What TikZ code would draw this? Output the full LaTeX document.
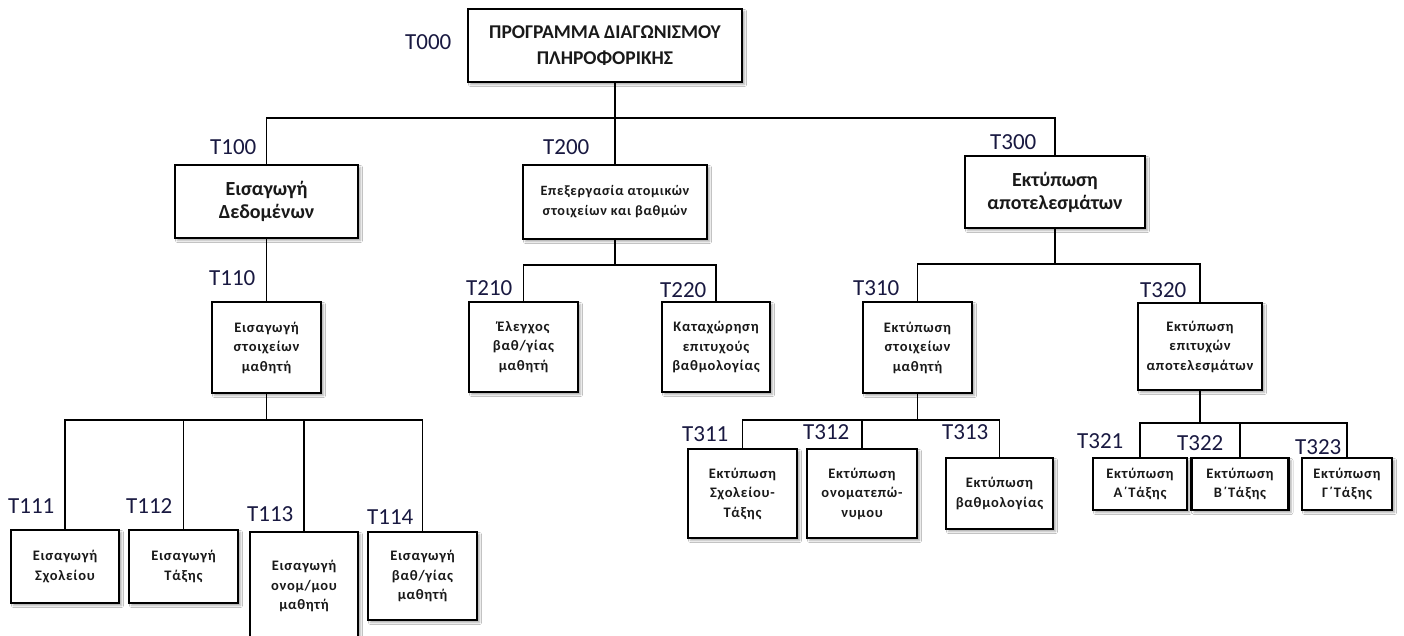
\documentclass[tikz,border=0pt]{standalone}
\usepackage{fontspec}
\setmainfont{Carlito}
\newfontfamily\spacedfont{Carlito}[LetterSpace=5]
\usetikzlibrary{shadows.blur}
\definecolor{codeblue}{RGB}{25,25,65}

\tikzset{
  box/.style={draw=black, line width=2.6pt, fill=white, inner sep=0pt,
    align=center, text=black!90,
    blur shadow={shadow xshift=2.5pt, shadow yshift=-2.5pt,
      shadow blur radius=2pt, shadow opacity=35}},
  toptxt/.style={font=\bfseries\fontsize{19.5}{26.7}\selectfont},
  bigtxt/.style={font=\bfseries\fontsize{20}{23}\selectfont},
  midtxt/.style={font=\spacedfont\bfseries\fontsize{14.2}{20}\selectfont},
  smalltxt/.style={font=\spacedfont\bfseries\fontsize{14.5}{19.5}\selectfont},
  code/.style={font=\fontsize{23}{27}\selectfont, text=codeblue,
    inner sep=0pt, anchor=base west},
  link/.style={line width=1.3pt, draw=black}
}

\begin{document}
\begin{tikzpicture}[x=1pt, y=-1pt]
  \useasboundingbox (0,0) rectangle (1404,636);
  \fill[white] (0,0) rectangle (1404,636);
  \clip (0,0) rectangle (1404,636);

  % bus levels
  \coordinate (b1) at (0,118);
  \coordinate (b2) at (0,265);
  \coordinate (b3) at (0,264);
  \coordinate (b4) at (0,420);
  \coordinate (b5) at (0,420);
  \coordinate (b6) at (0,423);

  % root
  \node[box, toptxt, minimum width=274pt, minimum height=73pt] (t000) at (605,45.5)
    {ΠΡΟΓΡΑΜΜΑ ΔΙΑΓΩΝΙΣΜΟΥ\\ΠΛΗΡΟΦΟΡΙΚΗΣ};

  % first level
  \node[box, bigtxt, minimum width=183pt, minimum height=73pt] (t100) at (266.5,201.5)
    {Εισαγωγή\\Δεδομένων};
  \node[box, midtxt, minimum width=184pt, minimum height=74pt] (t200) at (615,202)
    {Επεξεργασία ατομικών\\στοιχείων και βαθμών};
  \node[box, bigtxt, minimum width=180pt, minimum height=72pt] (t300) at (1055,192)
    {Εκτύπωση\\αποτελεσμάτων};

  % second level
  \node[box, smalltxt, minimum width=109pt, minimum height=91pt] (t110) at (266.5,347.5)
    {Εισαγωγή\\στοιχείων\\μαθητή};
  \node[box, smalltxt, minimum width=109pt, minimum height=90pt] (t210) at (523.5,347)
    {Έλεγχος\\βαθ/γίας\\μαθητή};
  \node[box, smalltxt, minimum width=108pt, minimum height=90pt] (t220) at (716,347)
    {Καταχώρηση\\επιτυχούς\\βαθμολογίας};
  \node[box, smalltxt, minimum width=109pt, minimum height=91pt] (t310) at (917.5,347.5)
    {Εκτύπωση\\στοιχείων\\μαθητή};
  \node[box, smalltxt, minimum width=124pt, minimum height=87pt] (t320) at (1200,346.5)
    {Εκτύπωση\\επιτυχών\\αποτελεσμάτων};

  % third level
  \node[box, smalltxt, minimum width=108pt, minimum height=73pt] (t111) at (65,566.5)
    {Εισαγωγή\\Σχολείου};
  \node[box, smalltxt, minimum width=109pt, minimum height=73pt] (t112) at (183.5,566.5)
    {Εισαγωγή\\Τάξης};
  \node[box, smalltxt, minimum width=108pt, minimum height=108pt] (t113) at (304,586)
    {Εισαγωγή\\ονομ/μου\\μαθητή};
  \node[box, smalltxt, minimum width=109pt, minimum height=88pt] (t114) at (422.5,576)
    {Εισαγωγή\\βαθ/γίας\\μαθητή};

  \node[box, smalltxt, minimum width=109pt, minimum height=89pt] (t311) at (742.5,493.5)
    {Εκτύπωση\\Σχολείου-\\Τάξης};
  \node[box, smalltxt, minimum width=110pt, minimum height=89pt] (t312) at (862,493.5)
    {Εκτύπωση\\ονοματεπώ-\\νυμου};
  \node[box, smalltxt, minimum width=107pt, minimum height=71pt] (t313) at (999.5,493.5)
    {Εκτύπωση\\βαθμολογίας};

  \node[box, smalltxt, minimum width=94pt, minimum height=52pt] (t321) at (1140,484)
    {Εκτύπωση\\Α΄Τάξης};
  \node[box, smalltxt, minimum width=97pt, minimum height=52pt] (t322) at (1240,484)
    {Εκτύπωση\\Β΄Τάξης};
  \node[box, smalltxt, minimum width=90pt, minimum height=52pt] (t323) at (1347,484)
    {Εκτύπωση\\Γ΄Τάξης};

  % task codes
  \node[code] (c000) at (405,50) {T000};
  \node[code] (c100) at (210,155) {T100};
  \node[code] (c200) at (543,155) {T200};
  \node[code] (c300) at (990,150) {T300};
  \node[code] (c110) at (209,285) {T110};
  \node[code] (c210) at (466,295) {T210};
  \node[code] (c220) at (660,297) {T220};
  \node[code] (c310) at (853,295) {T310};
  \node[code] (c320) at (1140,297) {T320};
  \node[code] (c111) at (8,513) {T111};
  \node[code] (c112) at (126,513) {T112};
  \node[code] (c113) at (247,521) {T113};
  \node[code] (c114) at (367,524) {T114};
  \node[code] (c311) at (682,441) {T311};
  \node[code] (c312) at (803,439) {T312};
  \node[code] (c313) at (942,439) {T313};
  \node[code] (c321) at (1077,448) {T321};
  \node[code] (c322) at (1177,450) {T322};
  \node[code] (c323) at (1295,454) {T323};

  % connectors
  \draw[link] (t000.south -| t200.north) -- (t200.north);
  \draw[link] (t100.north) |- (b1 -| t300.north) -- (t300.north);

  \draw[link] (t100.south) -- (t110.north);

  \draw[link] (t200.south) -- (t200.south |- b2);
  \draw[link] (t210.north) |- (b2 -| t220.north) -- (t220.north);

  \draw[link] (t300.south) -- (t300.south |- b3);
  \draw[link] (t310.north) |- (b3 -| t320.north) -- (t320.north);

  \draw[link] (t110.south) -- (t110.south |- b4);
  \draw[link] (t111.north) |- (b4 -| t114.north) -- (t114.north);
  \draw[link] (t112.north) -- (t112.north |- b4);
  \draw[link] (t113.north) -- (t113.north |- b4);

  \draw[link] (t310.south) -- (t310.south |- b5);
  \draw[link] (t311.north) |- (b5 -| t313.north) -- (t313.north);
  \draw[link] (t312.north) -- (t312.north |- b5);

  \draw[link] (t320.south) -- (t320.south |- b6);
  \draw[link] (t321.north) |- (b6 -| t323.north) -- (t323.north);
  \draw[link] (t322.north) -- (t322.north |- b6);
\end{tikzpicture}
\end{document}
